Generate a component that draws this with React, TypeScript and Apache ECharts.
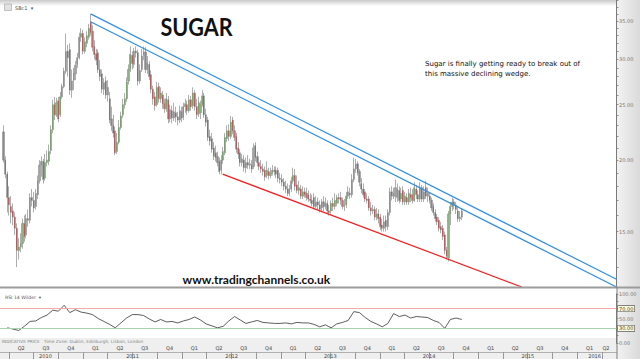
import React, { useEffect, useRef } from "react";
import * as echarts from "echarts";

// ---------- data (weekly SBc1 candles, Mar 2010 - Oct 2014) ----------
const firstWeek = Date.UTC(2010, 2, 12);
const WEEK = 7 * 86400000;

const opens = [
  22.4,20.0,18.9,17.2,16.6,16.3,15.9,15.2,13.9,14.1,
  14.3,15.5,14.8,15.8,15.7,17.2,17.0,16.6,17.4,18.4,
  19.6,19.9,18.6,19.8,19.9,20.8,22.6,25.0,24.0,25.4,
  24.0,25.8,26.9,28.6,31.0,31.2,26.5,27.6,28.3,29.4,
  30.2,32.8,33.3,31.0,32.0,32.8,34.8,33.6,31.6,30.7,
  30.8,28.8,28.3,26.6,27.5,26.0,25.6,23.6,23.0,22.5,
  20.7,21.5,22.8,24.0,25.0,25.6,27.5,28.8,30.5,29.4,
  31.0,30.8,27.5,28.8,30.5,30.9,28.8,29.4,28.2,26.6,
  25.8,25.0,26.9,25.6,26.0,25.1,24.6,25.5,23.6,24.4,
  23.7,24.2,23.8,23.5,24.3,23.8,24.8,25.0,24.4,25.5,
  24.9,26.2,24.8,24.1,24.2,
  25.0,25.9,24.0,23.5,22.0,21.8,21.0,20.6,20.3,19.9,19.2,20.0,20.6,21.8,22.5,22.0,23.5,22.5,22.0,21.0,20.6,19.8,20.0,19.4,19.8,
  19.6,
  19.6,19.5,21.2,20.3,19.8,19.5,19.3,19.2,18.8,19.1,18.8,19.0,
  19.2,
  19.2,19.2,18.6,18.5,18.3,18.0,17.8,17.5,17.8,18.4,18.8,18.1,17.7,17.8,17.3,
  17.6,
  17.5,17.4,17.1,17.0,17.2,16.6,16.9,16.7,16.5,16.9,16.6,16.8,16.3,16.3,16.8,16.6,16.8,
  17.2,
  17.2,17.0,16.6,16.7,17.3,17.5,17.4,18.5,19.3,19.7,19.1,18.2,17.8,17.6,17.1,17.1,16.5,
  16.3,
  16.4,15.9,16.1,15.9,15.4,15.2,15.7,15.3,16.2,17.6,
  17.3,
  17.3,17.2,17.7,17.1,
  17.7,16.9,17.2,16.9,17.4,17.4,17.0,17.8,17.4,17.1,17.9,17.1,17.9,17.3,17.3,17.0,
  16.6,16.2,15.9,15.7,15.3,15.2,14.8,13.9,13.5,16.1,16.6,16.9,16.7,16.3,15.8,15.9,
];

const highs = [
  23.0,20.3,19.1,18.0,17.3,16.8,16.2,15.5,14.6,14.9,
  15.8,16.0,16.1,16.4,17.5,17.8,17.6,17.8,18.8,20.0,
  20.3,20.1,20.5,20.8,21.3,23.0,25.5,25.8,25.7,25.8,
  26.3,27.2,29.0,33.3,31.8,32.0,28.8,29.0,29.8,30.8,
  33.4,34.0,33.8,32.8,33.6,34.6,36.0,34.4,32.4,31.3,
  31.2,29.9,28.8,27.8,28.0,27.6,26.3,24.8,24.0,22.9,
  22.3,23.5,24.3,25.6,26.2,27.9,29.4,31.6,31.0,31.4,
  31.6,31.2,29.4,31.3,31.6,31.5,30.4,29.8,28.7,27.0,
  26.3,27.4,27.3,26.8,26.4,25.6,26.2,25.9,25.0,24.9,
  25.2,24.8,24.3,24.9,24.8,25.2,25.6,25.4,26.0,25.9,
  26.8,26.5,25.6,25.8,25.4,
  26.5,26.2,24.6,23.8,22.6,22.3,21.5,21.2,20.7,20.2,20.4,21.1,22.3,23.0,23.1,23.9,23.8,23.0,22.3,21.5,20.9,20.5,20.4,20.2,20.4,
  20.1,
  20.0,21.4,21.5,20.7,20.3,20.0,19.7,19.5,19.9,19.4,19.4,19.6,
  19.5,
  19.5,19.4,19.0,18.9,18.6,18.4,18.2,18.1,18.7,19.4,19.3,18.8,18.4,18.1,18.0,
  17.9,
  17.9,17.7,17.5,17.4,17.5,17.3,17.2,17.0,17.1,17.3,17.2,17.0,16.7,17.0,17.2,17.5,17.4,
  17.5,
  17.6,17.2,17.1,17.6,18.0,17.9,18.9,20.2,20.1,19.9,19.3,18.6,18.2,17.8,17.5,17.3,16.9,
  16.7,
  16.6,16.5,16.4,16.1,15.8,16.0,16.0,16.4,17.9,18.0,
  17.9,
  18.5,18.2,18.0,17.9,
  18.0,17.6,17.5,17.8,17.9,17.8,18.3,18.1,17.7,18.3,18.1,18.0,18.4,17.9,17.6,17.2,
  16.8,16.4,16.1,15.9,15.6,15.4,15.0,14.1,16.3,16.9,17.2,17.1,16.9,16.6,16.3,16.5,
];

const lows = [
  19.8,18.6,16.2,16.0,15.5,15.4,14.8,13.0,13.4,13.8,
  14.0,14.4,14.6,15.3,15.5,16.6,16.2,16.4,17.1,18.2,
  18.7,18.2,18.4,19.5,19.6,20.5,22.3,23.5,23.8,23.3,
  23.8,25.6,26.7,28.3,28.0,26.0,25.7,26.5,27.6,29.0,
  30.0,32.2,30.6,30.7,31.5,32.5,33.0,31.0,30.0,29.3,
  28.4,27.5,26.2,26.0,25.6,25.3,23.2,22.5,21.9,20.4,
  20.5,21.3,22.6,23.7,24.6,25.3,27.1,28.5,28.8,29.0,
  30.2,27.0,27.2,28.5,29.9,28.4,28.3,27.6,26.2,25.0,
  24.4,24.8,25.2,25.2,24.6,24.2,24.3,23.2,23.3,23.2,
  23.4,23.3,23.0,23.2,23.3,23.5,24.2,24.0,24.2,24.4,
  24.6,24.4,23.6,23.8,23.6,
  24.8,23.7,22.9,21.6,21.2,20.6,20.0,19.9,19.5,18.9,18.9,19.7,20.4,21.5,21.6,21.8,22.2,21.6,20.6,20.1,19.5,19.5,19.1,19.0,19.3,
  19.3,
  19.0,19.3,19.9,19.5,19.2,19.0,18.8,18.4,18.6,18.5,18.6,18.8,
  18.8,
  18.6,18.3,18.2,18.0,17.7,17.5,17.3,17.3,17.6,18.2,17.7,17.5,17.4,17.1,17.1,
  17.2,
  17.0,16.9,16.8,16.6,16.4,16.5,16.4,16.2,16.2,16.3,16.4,16.1,16.0,16.1,16.3,16.4,16.6,
  16.8,
  16.7,16.4,16.3,16.5,17.1,17.1,17.2,18.3,19.0,18.8,18.0,17.5,17.2,16.9,16.8,16.3,16.0,
  16.1,
  15.7,15.7,15.5,15.1,15.0,15.0,15.0,15.1,16.0,17.0,
  17.1,
  16.9,16.9,16.8,16.9,
  16.7,16.7,16.7,16.7,16.9,16.8,16.9,17.1,16.9,16.9,16.9,16.9,17.1,16.9,16.8,16.3,
  16.0,15.6,15.4,15.0,14.9,14.5,13.7,13.4,13.3,15.4,16.3,16.4,16.1,15.6,15.6,15.7,
];

const closes = [
  20.0,18.9,17.2,16.7,16.2,15.9,15.2,13.9,14.1,14.3,
  15.5,14.7,15.8,15.7,17.2,17.0,16.5,17.5,18.4,19.6,
  19.9,18.5,19.8,20.0,20.7,22.6,25.0,24.0,25.2,23.6,
  25.8,26.9,28.6,31.0,30.2,26.5,27.5,28.4,29.3,30.2,
  32.8,33.3,31.0,32.2,33.0,34.0,33.4,31.5,30.6,29.9,
  28.8,28.0,26.6,27.3,26.0,26.8,23.5,23.0,22.3,20.6,
  21.5,22.8,23.9,25.0,25.6,27.4,28.8,30.6,29.5,31.0,
  30.8,27.5,28.7,30.4,30.9,28.8,29.6,28.0,26.6,25.6,
  24.9,26.8,25.6,26.2,25.1,24.6,25.6,23.6,24.5,23.7,
  24.3,23.8,23.5,24.4,23.7,24.8,25.1,24.4,25.5,24.8,
  26.2,24.8,24.0,25.2,25.0,
  25.9,24.0,23.3,21.9,21.6,20.9,20.3,20.2,19.8,19.1,20.0,20.7,21.9,22.5,22.0,23.3,22.5,21.9,20.9,20.5,19.8,20.1,19.4,19.8,19.6,
  19.7,
  19.3,21.0,20.2,19.8,19.5,19.3,19.1,18.7,19.2,18.8,19.0,19.2,
  19.1,
  18.9,18.6,18.5,18.3,18.0,17.8,17.5,17.8,18.4,18.8,18.0,17.7,17.9,17.3,17.6,
  17.4,
  17.2,17.1,17.0,16.8,16.6,16.9,16.7,16.4,16.9,16.6,16.8,16.3,16.2,16.8,16.6,17.0,17.2,
  17.1,
  17.0,16.6,16.7,17.3,17.6,17.4,18.5,19.3,19.7,19.0,18.3,17.8,17.4,17.1,17.0,16.5,16.3,
  16.4,
  15.9,16.1,15.8,15.3,15.2,15.6,15.3,16.2,17.6,17.3,
  17.5,
  17.9,17.8,17.0,17.5,
  16.9,17.3,16.9,17.5,17.2,17.0,17.9,17.4,17.1,17.9,17.1,17.6,17.3,17.5,17.0,16.5,
  16.2,15.8,15.6,15.2,15.1,14.7,13.9,13.6,16.1,16.6,16.9,16.7,16.4,15.8,15.9,16.29,
];

// RSI(14, Wilder), one reading every third week, starting at week index 2
const rsiValues = [
  31,28.5,25.5,34,44,45,52,57,67,65,
  77,62,68,63,61,58,50,44,38,31,
  41,51,58,58,56,49,43,48,43,44,
  41,45,48,53,47,39,35,31,34,45,
  54,47,40,43,46,42,41,40,40,41,
  39,42,41,41,38,33,37,31,39,42,
  46,64,62,52,44,39,33,40,60,54,
  57,51,54,53,52,46,42,30,48,51,
  48,
];
const rsiFirstIndex = 2;
const rsiStep = 3;

const lastPrice = 16.29;
const rsiLevels = [70, 30];

// trend lines: [date, price]
const upperChannel = [[Date.UTC(2011, 0, 28), 36.03], [Date.UTC(2016, 4, 25), 12.38]];
const lowerChannel = [[Date.UTC(2011, 0, 28), 34.9], [Date.UTC(2016, 4, 25), 12.0]];
const supportLine = [[Date.UTC(2012, 4, 30), 18.9], [Date.UTC(2015, 5, 10), 12.0]];

// axes
const xMin = Date.UTC(2010, 1, 27);
const xMax = Date.UTC(2016, 4, 25);
const priceMin = 12;
const priceMax = 38.1;
const priceLabels = [15, 20, 25, 30, 35];
const priceTicks = [12,13,14,15,16,17,18,19,20,21,22,23,24,25,26,27,28,29,30,31,32,33,34,35,36,37,38];
const rsiLabels = [0, 50, 100];
const rsiTicks = [0, 15, 30, 50, 70, 85, 100];
const years = [2010, 2011, 2012, 2013, 2014, 2015, 2016];
const yearLabelDates = [
  Date.UTC(2010, 7, 14), Date.UTC(2011, 6, 2), Date.UTC(2012, 6, 2), Date.UTC(2013, 6, 2),
  Date.UTC(2014, 6, 2), Date.UTC(2015, 6, 2), Date.UTC(2016, 2, 5),
];
const quarterStartMonths = [0, 3, 6, 9];

function buildOption() {
  const candleData = closes.map((c, i) => [firstWeek + i * WEEK, opens[i], c, lows[i], highs[i]]);
  const bodyData = closes.map((c, i) => [
    firstWeek + i * WEEK, opens[i], c, Math.min(opens[i], c), Math.max(opens[i], c),
  ]);
  const rsiData = rsiValues.map((v, j) => [firstWeek + (rsiFirstIndex + j * rsiStep) * WEEK, v]);

  const quarterStarts: number[] = [];
  years.forEach((y) => quarterStartMonths.forEach((m) => {
    const t = Date.UTC(y, m, 1);
    if (t > xMin && t < xMax) quarterStarts.push(t);
  }));
  const quarterMids: number[] = [];
  years.forEach((y) => quarterStartMonths.forEach((m) => {
    const s = Date.UTC(y, m, 1);
    const e = Date.UTC(y, m + 3, 1);
    if (s >= xMin && e <= xMax) quarterMids.push((s + e) / 2);
  }));
  quarterMids.push(Date.UTC(2016, 3, 16));
  const yearStarts = years.map((y) => Date.UTC(y, 0, 1)).filter((t) => t > xMin && t < xMax);

  const smallFont = "DejaVu Sans";
  const boxLabel = {
    show: true,
    position: "end" as const,
    distance: 1.5,
    fontSize: 5,
    fontFamily: smallFont,
    color: "#333",
    backgroundColor: "#ffffe0",
    borderColor: "#555",
    borderWidth: 0.6,
    padding: [0.5, 1, 0, 1],
  };

  const hiddenX = (gridIndex: number) => ({
    type: "value", gridIndex, min: xMin, max: xMax, show: false, splitLine: { show: false },
  });

  return {
    animation: false,
    backgroundColor: "#ffffff",
    grid: [
      { left: 0, top: 0, width: 616.5, height: 287, outerBoundsMode: "none" },
      { left: 0, top: 294, width: 616.5, height: 49, outerBoundsMode: "none" },
      { left: 0, top: 344, width: 616.5, height: 8, outerBoundsMode: "none" },
      { left: 0, top: 352, width: 616.5, height: 7, outerBoundsMode: "none" },
    ],
    xAxis: [
      hiddenX(0),
      hiddenX(1),
      {
        type: "value", gridIndex: 2, min: xMin, max: xMax, position: "top",
        axisLine: { show: true, lineStyle: { color: "#b0b0b0", width: 1 } },
        axisTick: { show: true, inside: true, length: 8, customValues: quarterStarts, lineStyle: { color: "#9a9a9a", width: 1 } },
        axisLabel: {
          show: true, inside: true, margin: 1.5, customValues: quarterMids,
          fontSize: 5, fontFamily: smallFont, color: "#444",
          formatter: (v: number) => "Q" + (Math.floor(new Date(v).getUTCMonth() / 3) + 1),
        },
        splitLine: { show: false },
      },
      {
        type: "value", gridIndex: 3, min: xMin, max: xMax, position: "top",
        axisLine: { show: true, lineStyle: { color: "#9a9a9a", width: 1 } },
        axisTick: { show: true, inside: true, length: 7, customValues: yearStarts, lineStyle: { color: "#9a9a9a", width: 1 } },
        axisLabel: {
          show: true, inside: true, margin: 1, customValues: yearLabelDates,
          fontSize: 5, fontFamily: smallFont, color: "#444",
          formatter: (v: number) => String(new Date(v).getUTCFullYear()),
        },
        splitLine: { show: false },
      },
    ],
    yAxis: [
      {
        type: "log", logBase: 10, gridIndex: 0, position: "right", min: priceMin, max: priceMax,
        axisLine: { show: true, lineStyle: { color: "#7a7a7a", width: 1 } },
        axisTick: { show: true, length: 2, customValues: priceTicks, lineStyle: { color: "#7a7a7a", width: 0.8 } },
        axisLabel: {
          show: true, margin: 2.5, customValues: priceLabels, fontSize: 5, fontFamily: smallFont, color: "#777",
          formatter: (v: number) => Number(v).toFixed(2),
        },
        splitLine: { show: false },
      },
      {
        type: "value", gridIndex: 1, position: "right", min: 0, max: 100,
        axisLine: { show: true, lineStyle: { color: "#7a7a7a", width: 1 } },
        axisTick: { show: true, length: 2, customValues: rsiTicks, lineStyle: { color: "#7a7a7a", width: 0.8 } },
        axisLabel: {
          show: true, margin: 2.5, customValues: rsiLabels, fontSize: 5, fontFamily: smallFont, color: "#777",
          formatter: (v: number) => Number(v).toFixed(2),
        },
        splitLine: { show: false },
      },
      { type: "value", gridIndex: 2, show: false, splitLine: { show: false } },
      { type: "value", gridIndex: 3, show: false, splitLine: { show: false } },
    ],
    series: [
      {
        type: "candlestick", name: "wicks", xAxisIndex: 0, yAxisIndex: 0,
        data: candleData, encode: { x: 0, y: [1, 2, 3, 4] },
        barWidth: 1.6, silent: true,
        itemStyle: { color: "#cccccc", color0: "#cccccc", borderColor: "#999999", borderColor0: "#999999", borderWidth: 0.8 },
        markLine: {
          silent: true, symbol: "none",
          lineStyle: { opacity: 0 },
          label: { ...boxLabel, formatter: lastPrice.toFixed(2) },
          data: [{ yAxis: lastPrice }],
        },
      },
      {
        type: "candlestick", name: "bodies", xAxisIndex: 0, yAxisIndex: 0,
        data: bodyData, encode: { x: 0, y: [1, 2, 3, 4] },
        barWidth: 1.1, silent: true,
        itemStyle: { color: "#4f9a38", color0: "#b3161c", borderColor: "#4f9a38", borderColor0: "#b3161c", borderWidth: 0.5 },
      },
      {
        type: "line", xAxisIndex: 0, yAxisIndex: 0, data: upperChannel, symbol: "none", silent: true,
        lineStyle: { color: "#2f8ee0", width: 1.2 }, z: 5,
      },
      {
        type: "line", xAxisIndex: 0, yAxisIndex: 0, data: lowerChannel, symbol: "none", silent: true,
        lineStyle: { color: "#2f8ee0", width: 1.2 }, z: 5,
      },
      {
        type: "line", xAxisIndex: 0, yAxisIndex: 0, data: supportLine, symbol: "none", silent: true,
        lineStyle: { color: "#f02020", width: 1.2 }, z: 5,
      },
      {
        type: "line", xAxisIndex: 1, yAxisIndex: 1, data: rsiData, symbol: "none", silent: true,
        lineStyle: { color: "#333333", width: 0.8 },
        markLine: {
          silent: true, symbol: "none",
          data: rsiLevels.map((lv) => ({
            yAxis: lv,
            lineStyle: { color: lv > 50 ? "#f5a8a8" : "#a9d3a9", width: 1, type: "solid" },
            label: { ...boxLabel, formatter: lv.toFixed(2) },
          })),
        },
      },
    ],
    graphic: [
      {
        type: "rect", z: -10, silent: true, shape: { x: 617, y: 0, width: 23, height: 359 },
        style: { fill: new echarts.graphic.LinearGradient(0, 0, 1, 0, [
          { offset: 0, color: "#f2f2f2" }, { offset: 1, color: "#dadada" },
        ]) },
      },
      {
        type: "rect", z: -10, silent: true, shape: { x: 0, y: 0, width: 617, height: 6 },
        style: { fill: new echarts.graphic.LinearGradient(0, 0, 0, 1, [
          { offset: 0, color: "#c9c9c9" }, { offset: 1, color: "#ffffff" },
        ]) },
      },
      { type: "rect", z: -10, silent: true, shape: { x: 0, y: 338, width: 617, height: 21 }, style: { fill: "#efefef" } },
      { type: "rect", z: 50, silent: true, shape: { x: 0, y: 286.5, width: 640, height: 2 }, style: { fill: "#9c9c9c" } },
      { type: "line", z: 50, silent: true, shape: { x1: 617, y1: 287, x2: 617, y2: 359 }, style: { stroke: "#7a7a7a", lineWidth: 1 } },
      {
        type: "rect", z: 60, silent: true, shape: { x: 4.5, y: 4, width: 7, height: 6.5 },
        style: { fill: "#e2e2e2", stroke: "#a0a0a0", lineWidth: 0.6 },
      },
      {
        type: "text", z: 60, silent: true, x: 15, y: 7.5,
        style: { text: "SBc1  \u25BE", fill: "#555", font: "5px 'DejaVu Sans'", textAlign: "left", textVerticalAlign: "middle" },
      },
      {
        type: "text", z: 60, silent: true, x: 5, y: 297.3,
        style: { text: "RSI 14 Wilder  \u25BE", fill: "#555", font: "4.6px 'DejaVu Sans'", textAlign: "left", textVerticalAlign: "middle" },
      },
      {
        type: "text", z: 60, silent: true, x: 1.7, y: 341.2,
        style: { text: "INDICATIVE PRICE   Time Zone: Dublin, Edinburgh, Lisbon, London", fill: "#888", font: "4.3px 'DejaVu Sans'", textAlign: "left", textVerticalAlign: "middle" },
      },
      {
        type: "text", z: 60, silent: true, x: 160.5, y: 26.5, scaleX: 0.88,
        style: { text: "SUGAR", fill: "#111", font: "bold 24.5px Lato", textAlign: "left", textVerticalAlign: "middle" },
      },
      {
        type: "text", z: 60, silent: true, x: 425, y: 63.5,
        style: { text: "Sugar is finally getting ready to break out of", fill: "#111", font: "7px 'DejaVu Sans'", textAlign: "left", textVerticalAlign: "middle" },
      },
      {
        type: "text", z: 60, silent: true, x: 425, y: 73.5,
        style: { text: "this massive declining wedge.", fill: "#111", font: "7px 'DejaVu Sans'", textAlign: "left", textVerticalAlign: "middle" },
      },
      {
        type: "text", z: 60, silent: true, x: 182.5, y: 279.5,
        style: { text: "www.tradingchannels.co.uk", fill: "#111", font: "bold 12px Lato", textAlign: "left", textVerticalAlign: "middle" },
      },
    ],
  };
}

export default function App() {
  const ref = useRef<HTMLDivElement>(null);
  useEffect(() => {
    if (!ref.current) return;
    const chart = echarts.init(ref.current, undefined, { renderer: "svg" });
    chart.setOption(buildOption() as any);
    return () => chart.dispose();
  }, []);
  return <div ref={ref} style={{ position: "fixed", left: 0, top: 0, width: 640, height: 359 }} />;
}
